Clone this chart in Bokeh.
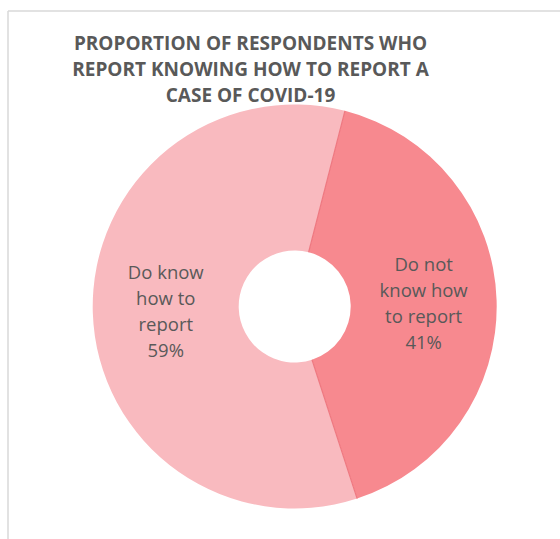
import numpy as np
from bokeh.plotting import figure
from bokeh.models import Range1d, ColumnDataSource
from bokeh.core.properties import value
from bokeh.embed import file_html
from bokeh.resources import INLINE

# ---- data ----
title_lines = ["PROPORTION OF RESPONDENTS WHO",
               "REPORT KNOWING HOW TO REPORT A",
               "CASE OF COVID-19"]
categories = ["Do not know how to report", "Do know how to report"]
percents = [41, 59]
label_lines = [["Do not", "know how", "to report", "41%"],
               ["Do know", "how to", "report", "59%"]]
colors = ["#F7898F", "#F9BABF"]

# ---- layout (pixel-like data space, y measured from bottom) ----
W, H = 560, 539
CX, CY = 294.2, H - 306.0
R_OUT, R_IN = 202.0, 56.0
START_DEG = 75.6          # first slice starts here (math angle), goes clockwise
TEXT_COLOR = "#595959"

p = figure(width=W, height=H, x_range=Range1d(0, W), y_range=Range1d(0, H),
           output_backend="svg", toolbar_location=None,
           x_axis_location=None, y_axis_location=None,
           min_border=0, outline_line_color=None)
p.grid.visible = False
p.background_fill_color = "white"
p.border_fill_color = "white"

# chart area frame (only top/left visible in the crop)
FX, FY = 7.5, H - 10.5
p.segment(x0=[FX, FX], y0=[-5, FY], x1=[FX, W + 5], y1=[FY, FY],
          line_color="#D9D9D9", line_width=1.5)

# wedges
vals = np.array(percents, dtype=float)
fr = vals / vals.sum()
start = np.radians(START_DEG)
starts = start - 2 * np.pi * np.concatenate([[0], np.cumsum(fr)[:-1]])
ends = starts - 2 * np.pi * fr
src = ColumnDataSource(dict(cat=categories, start=starts, end=ends, color=colors))
p.annular_wedge(x=CX, y=CY, inner_radius=R_IN, outer_radius=R_OUT,
                start_angle="start", end_angle="end", direction="clock",
                fill_color="color", line_color=None, source=src)

# slice boundary lines
bx0 = CX + R_IN * np.cos(starts)
by0 = CY + R_IN * np.sin(starts)
bx1 = CX + R_OUT * np.cos(starts)
by1 = CY + R_OUT * np.sin(starts)
p.segment(x0=bx0, y0=by0, x1=bx1, y1=by1, line_color="#EE7880", line_width=1.2)

# data labels
mids = (starts + ends) / 2
r_lab = (R_IN + R_OUT) / 2
LINE_H = 25.8
xs, ys, ts = [], [], []
for m, lines in zip(mids, label_lines):
    lx = CX + r_lab * np.cos(m)
    ly = CY + r_lab * np.sin(m)
    n = len(lines)
    for i, t in enumerate(lines):
        xs.append(lx)
        ys.append(ly + ((n - 1) / 2 - i) * LINE_H)
        ts.append(t)
p.text(x=xs, y=ys, text=ts, text_align="center", text_baseline="middle",
       text_font=value("Open Sans"), text_font_size="18.5px", text_color=TEXT_COLOR)

# title
TX = 250
ty = [H - 42, H - 68.5, H - 94.5]
p.text(x=[TX] * 3, y=ty, text=title_lines, text_align="center", text_baseline="middle",
       text_font=value("Open Sans"), text_font_style="bold", text_font_size="19px",
       text_color=TEXT_COLOR)

open("out.html", "w").write(file_html(p, INLINE))
